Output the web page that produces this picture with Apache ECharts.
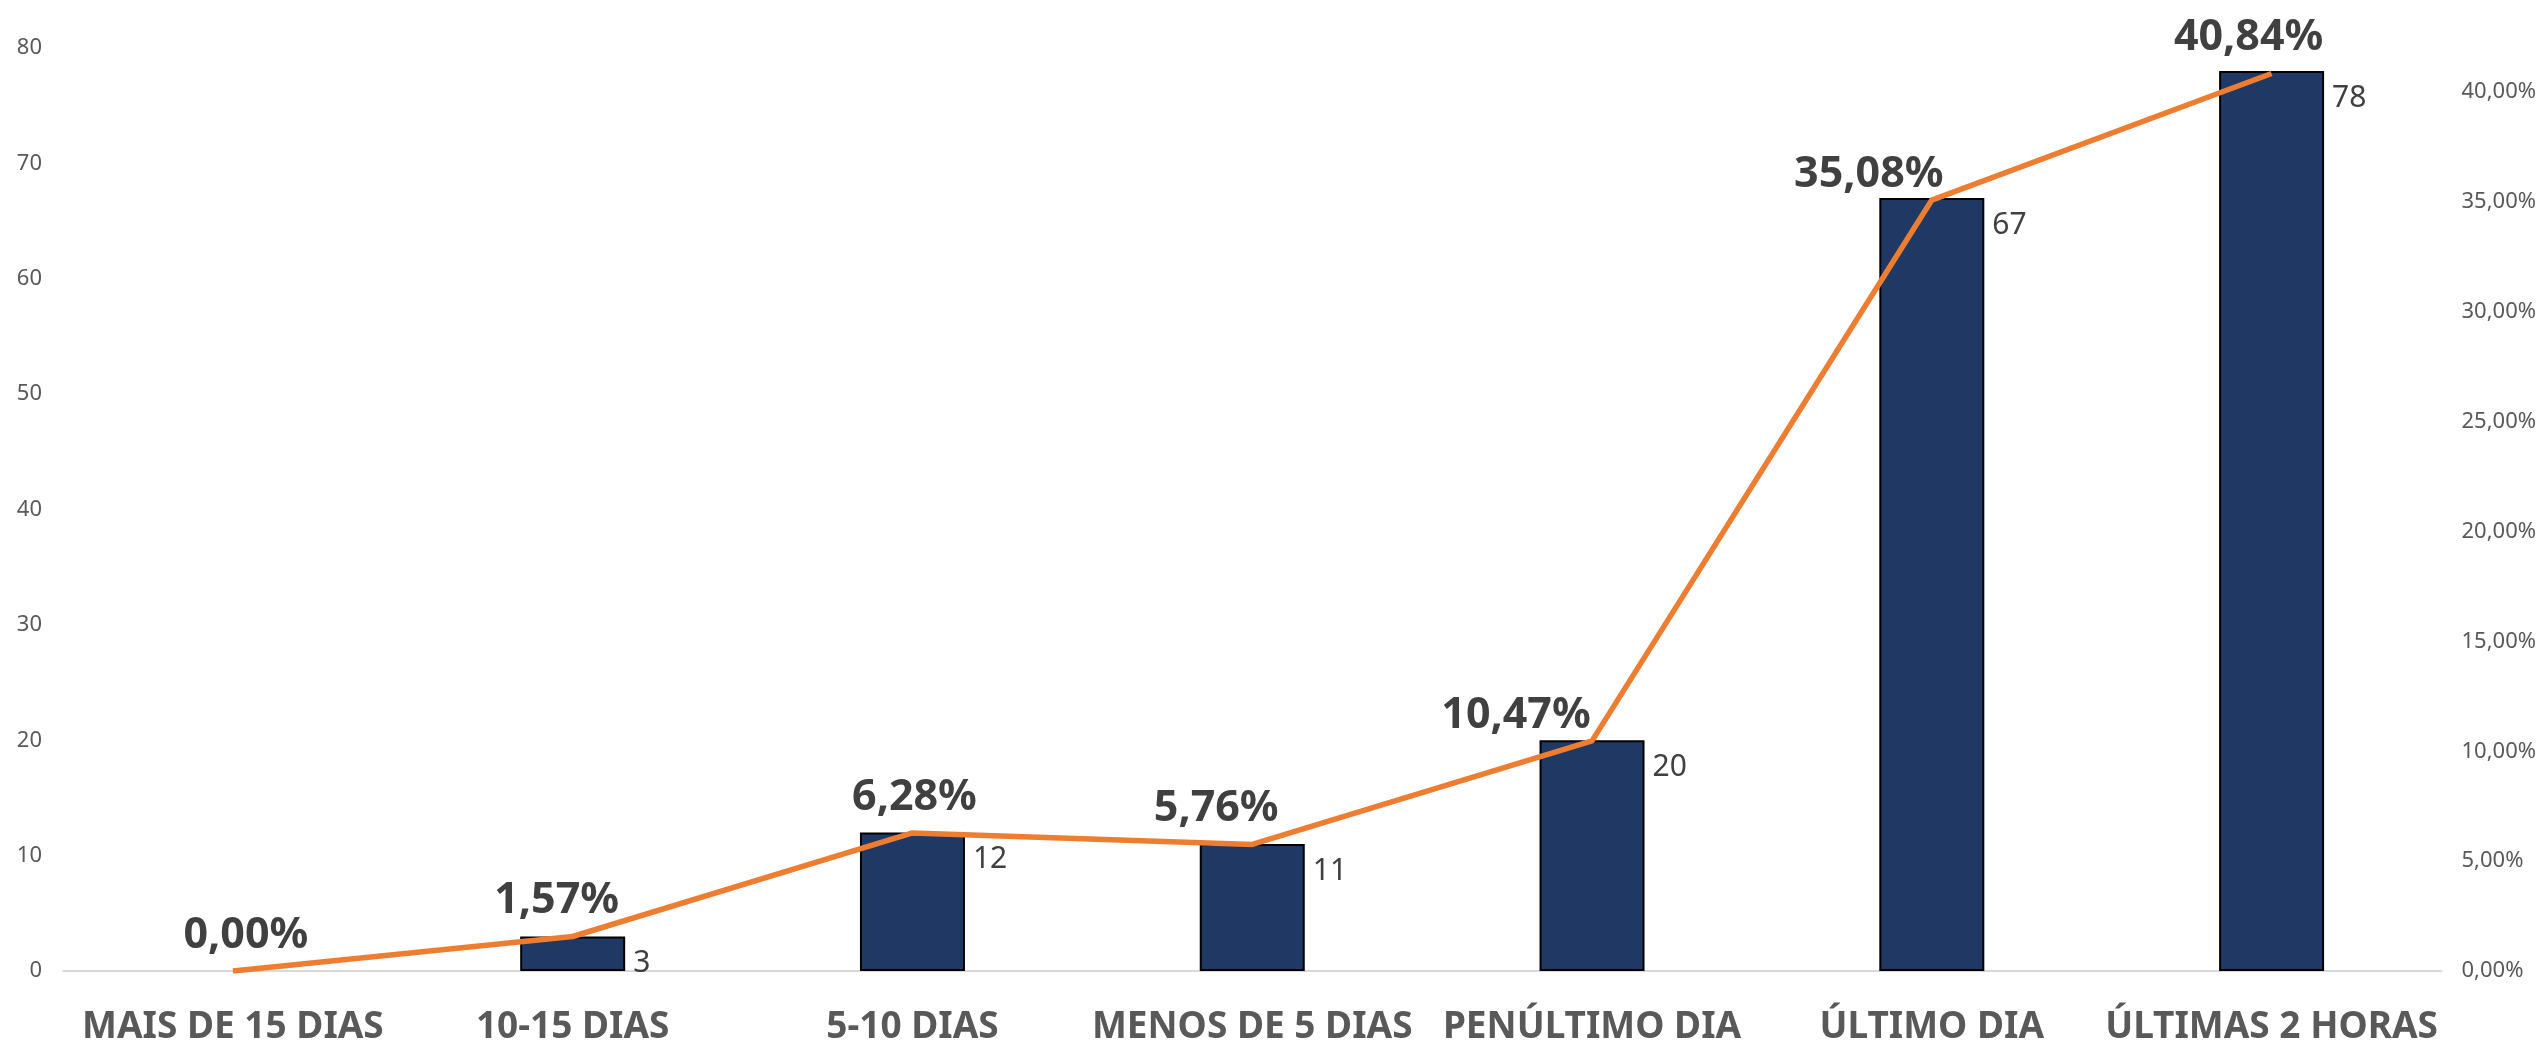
<!DOCTYPE html>
<html>
<head>
<meta charset="utf-8">
<title>Distribuição por período</title>
<script src="https://cdn.jsdelivr.net/npm/echarts@6/dist/echarts.min.js"></script>
<style>
  html, body { margin: 0; padding: 0; background: #fff; }
  #chart { width: 2539px; height: 1046px; }
</style>
</head>
<body>
<div id="chart"></div>
<script>
// data
const categories = ['MAIS DE 15 DIAS', '10-15 DIAS', '5-10 DIAS', 'MENOS DE 5 DIAS', 'PENÚLTIMO DIA', 'ÚLTIMO DIA', 'ÚLTIMAS 2 HORAS']
const counts = [0, 3, 12, 11, 20, 67, 78]
const percents = [0, 1.57, 6.28, 5.76, 10.47, 35.08, 40.84]

// tick setup for both axes
const leftTicks = { min: 0, max: 80, interval: 10 }
const rightTicks = { min: 0, max: 42, interval: 5 }

// the percent labels were nudged by hand in the original
const pctLabelShiftX = [13, -16, 2, -36, -76, -63, -23]
const pctLabelShiftY = [0, 0, 0, 0, 10, 10, 0]

const FONT = "'Noto Sans', sans-serif"
const fmtPct = v => v.toFixed(2).replace('.', ',') + '%'

const chart = echarts.init(document.getElementById('chart'), null, { renderer: 'canvas' })

chart.setOption({
  animation: false,
  textStyle: { fontFamily: FONT },
  grid: {
    left: 63,
    right: 97,
    top: 48,
    bottom: 74,
    containLabel: false
  },
  xAxis: {
    type: 'category',
    data: categories,
    axisTick: { show: false },
    axisLine: { lineStyle: { color: '#d9d9d9', width: 2 } },
    axisLabel: {
      interval: 0,
      margin: 38,
      color: '#595959',
      fontSize: 37,
      fontWeight: 'bold',
      fontFamily: FONT
    }
  },
  yAxis: [{
    type: 'value',
    min: leftTicks.min,
    max: leftTicks.max,
    interval: leftTicks.interval,
    splitLine: { show: false },
    axisLine: { show: false },
    axisTick: { show: false },
    axisLabel: {
      margin: 21,
      color: '#595959',
      fontSize: 22,
      fontFamily: FONT
    }
  }, {
    type: 'value',
    position: 'right',
    min: rightTicks.min,
    max: rightTicks.max,
    interval: rightTicks.interval,
    splitLine: { show: false },
    axisLine: { show: false },
    axisTick: { show: false },
    axisLabel: {
      margin: 20,
      showMaxLabel: false,
      color: '#595959',
      fontSize: 22,
      fontFamily: FONT,
      formatter: v => fmtPct(v)
    }
  }],
  series: [{
    name: 'Quantidade',
    type: 'bar',
    yAxisIndex: 0,
    barWidth: 105,
    // an empty category gets no outline
    data: counts.map(v => v === 0 ? { value: v, itemStyle: { borderWidth: 0 } } : v),
    itemStyle: {
      color: '#1f3864',
      borderColor: '#000',
      borderWidth: 2
    },
    label: {
      show: true,
      position: ['100%', 27],
      offset: [8, 0],
      align: 'left',
      verticalAlign: 'middle',
      color: '#404040',
      fontSize: 30,
      fontFamily: FONT,
      formatter: p => p.value === 0 ? '' : String(p.value)
    }
  }, {
    name: 'Percentual',
    type: 'line',
    yAxisIndex: 1,
    z: 5,
    data: percents.map((v, i) => ({
      value: v,
      label: { offset: [pctLabelShiftX[i], pctLabelShiftY[i]] }
    })),
    showSymbol: true,
    symbol: 'circle',
    symbolSize: 0,
    lineStyle: { color: '#ed7d31', width: 5.5 },
    itemStyle: { color: '#ed7d31' },
    label: {
      show: true,
      position: 'top',
      distance: 14,
      color: '#404040',
      fontSize: 43,
      fontWeight: 'bold',
      fontFamily: FONT,
      formatter: p => fmtPct(p.value)
    }
  }]
})
</script>
</body>
</html>
